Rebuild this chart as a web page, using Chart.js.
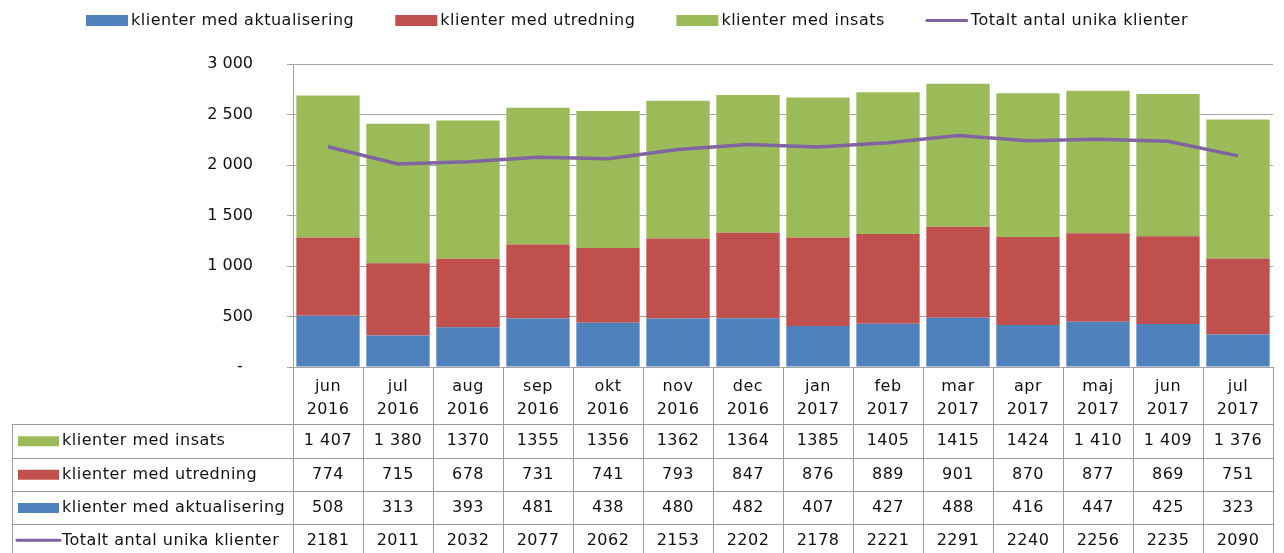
<!DOCTYPE html>
<html>
<head>
<meta charset="utf-8">
<script src="https://cdn.jsdelivr.net/npm/chart.js@4.4.1/dist/chart.umd.min.js"></script>
<style>
  html, body { margin: 0; padding: 0; background: #ffffff; }
  #wrap { position: relative; width: 1284px; height: 553px; }
</style>
</head>
<body>
<div id="wrap"><canvas id="c" width="1284" height="553"></canvas></div>
<script>
// ---- data ----
const months = ['jun','jul','aug','sep','okt','nov','dec','jan','feb','mar','apr','maj','jun','jul'];
const years  = ['2016','2016','2016','2016','2016','2016','2016','2017','2017','2017','2017','2017','2017','2017'];
const aktualisering = [508, 313, 393, 481, 438, 480, 482, 407, 427, 488, 416, 447, 425, 323];
const utredning     = [774, 715, 678, 731, 741, 793, 847, 876, 889, 901, 870, 877, 869, 751];
const insats        = [1407, 1380, 1370, 1355, 1356, 1362, 1364, 1385, 1405, 1415, 1424, 1410, 1409, 1376];
const totalt        = [2181, 2011, 2032, 2077, 2062, 2153, 2202, 2178, 2221, 2291, 2240, 2256, 2235, 2090];
// which insats cells are shown with a thousands space in the table
const insatsSpaced  = [true, true, false, false, false, false, false, false, false, false, false, true, true, true];
const yTicks = [0, 500, 1000, 1500, 2000, 2500, 3000];

const labels = months.map((m, i) => [m, years[i]]);
const FONT = '"DejaVu Sans", Verdana, sans-serif';
const TXT = '#111111';
const GRID = '#a3a3a3';
const BORDER = '#9a9a9a';
const C_BLUE = '#4F81BD', C_RED = '#C0504D', C_GREEN = '#9BBB59', C_PURPLE = '#8064A2';

function fmtSpace(v) {
  return String(v).replace(/\B(?=(\d{3})+(?!\d))/g, ' ');
}

const tablePlugin = {
  id: 'tablePlugin',
  afterDraw(chart) {
    const ctx = chart.ctx;
    const x = chart.scales.x;
    const area = chart.chartArea;
    const n = labels.length;
    const cw = (area.right - area.left) / n;
    const left = area.left, right = area.right;
    const headTop = area.bottom;
    const rowTops = [424, 457.5, 491, 524, 557.5];
    const tableLeft = 12;

    ctx.save();
    ctx.strokeStyle = BORDER;
    ctx.lineWidth = 1;
    for (let i = 0; i <= n; i++) {
      const px = Math.round(left + i * cw) + 0.5;
      ctx.beginPath();
      ctx.moveTo(px, headTop);
      ctx.lineTo(px, rowTops[4]);
      ctx.stroke();
    }
    ctx.beginPath();
    ctx.moveTo(tableLeft + 0.5, rowTops[0]);
    ctx.lineTo(tableLeft + 0.5, rowTops[4]);
    ctx.stroke();
    for (let r = 0; r < rowTops.length; r++) {
      const py = Math.round(rowTops[r]) + 0.5;
      ctx.beginPath();
      ctx.moveTo(tableLeft, py);
      ctx.lineTo(right + 0.5, py);
      ctx.stroke();
    }

    ctx.letterSpacing = '0.5px';
    ctx.fillStyle = TXT;
    ctx.font = '16px ' + FONT;
    ctx.textAlign = 'center';
    ctx.textBaseline = 'middle';
    for (let i = 0; i < n; i++) {
      const cx = x.getPixelForValue(i);
      ctx.fillText(labels[i][0], cx, 387);
      ctx.fillText(labels[i][1], cx, 410);
    }

    const rows = [
      { name: 'klienter med insats', color: C_GREEN, type: 'box', vals: insats.map((v, i) => insatsSpaced[i] ? fmtSpace(v) : String(v)) },
      { name: 'klienter med utredning', color: C_RED, type: 'box', vals: utredning.map(String) },
      { name: 'klienter med aktualisering', color: C_BLUE, type: 'box', vals: aktualisering.map(String) },
      { name: 'Totalt antal unika klienter', color: C_PURPLE, type: 'line', vals: totalt.map(String) }
    ];
    rows.forEach((row, r) => {
      const cy = (rowTops[r] + rowTops[r + 1]) / 2 + 0.5;
      ctx.fillStyle = row.color;
      if (row.type === 'box') {
        ctx.fillRect(18, cy - 5, 41, 10);
      } else {
        ctx.strokeStyle = row.color;
        ctx.lineWidth = 3;
        ctx.lineCap = 'round';
        ctx.beginPath();
        ctx.moveTo(17, cy - 1);
        ctx.lineTo(60, cy - 1);
        ctx.stroke();
      }
      ctx.fillStyle = TXT;
      ctx.textAlign = 'left';
      ctx.fillText(row.name, 62, cy);
      ctx.textAlign = 'center';
      for (let i = 0; i < n; i++) {
        ctx.fillText(row.vals[i], x.getPixelForValue(i), cy);
      }
    });

    // top legend
    const items = [
      { name: 'klienter med aktualisering', color: C_BLUE, type: 'box' },
      { name: 'klienter med utredning', color: C_RED, type: 'box' },
      { name: 'klienter med insats', color: C_GREEN, type: 'box' },
      { name: 'Totalt antal unika klienter', color: C_PURPLE, type: 'line' }
    ];
    const boxW = 42, gapT = 3, gapI = 41;
    let total = 0;
    items.forEach((it, k) => { it.w = ctx.measureText(it.name).width; total += boxW + gapT + it.w + (k < items.length - 1 ? gapI : 0); });
    let lx = Math.round(637 - total / 2);
    const ly = 20.5;
    items.forEach(it => {
      if (it.type === 'box') {
        ctx.fillStyle = it.color;
        ctx.fillRect(lx, ly - 5.5, boxW, 11);
      } else {
        ctx.strokeStyle = it.color;
        ctx.lineWidth = 3;
        ctx.lineCap = 'round';
        ctx.beginPath();
        ctx.moveTo(lx + 1, ly);
        ctx.lineTo(lx + boxW - 1, ly);
        ctx.stroke();
      }
      ctx.fillStyle = TXT;
      ctx.textAlign = 'left';
      ctx.textBaseline = 'middle';
      ctx.fillText(it.name, lx + boxW + gapT, ly);
      lx += boxW + gapT + it.w + gapI;
    });
    ctx.restore();
  }
};

new Chart(document.getElementById('c'), {
  type: 'bar',
  data: {
    labels: labels,
    datasets: [
      { type: 'line', label: 'Totalt antal unika klienter', data: totalt, borderColor: C_PURPLE, backgroundColor: C_PURPLE,
        borderWidth: 3.5, pointRadius: 0, tension: 0, stack: 'tot', order: 0 },
      { label: 'klienter med aktualisering', data: aktualisering, backgroundColor: C_BLUE, stack: 's', order: 1 },
      { label: 'klienter med utredning', data: utredning, backgroundColor: C_RED, stack: 's', order: 1 },
      { label: 'klienter med insats', data: insats, backgroundColor: C_GREEN, stack: 's', order: 1 }
    ]
  },
  options: {
    responsive: false,
    animation: false,
    devicePixelRatio: 1,
    layout: { padding: { top: 64, right: 11, bottom: 186, left: 0 } },
    datasets: { bar: { categoryPercentage: 1.0, barPercentage: 0.905 } },
    plugins: { legend: { display: false }, tooltip: { enabled: false } },
    scales: {
      x: { display: false, stacked: true, offset: true },
      y: {
        stacked: true,
        min: 0, max: 3000,
        afterBuildTicks(scale) { scale.ticks = yTicks.map(v => ({ value: v })); },
        afterFit(scale) { scale.width = 293; },
        grid: { color: GRID, lineWidth: 1, tickLength: 6, drawTicks: true, tickColor: GRID },
        border: { display: true, color: GRID, width: 1 },
        ticks: {
          padding: 34,
          color: TXT,
          font: { family: FONT, size: 16 },
          callback: (v) => v === 0 ? '-  ' : fmtSpace(v)
        }
      }
    }
  },
  plugins: [tablePlugin]
});
</script>
</body>
</html>
